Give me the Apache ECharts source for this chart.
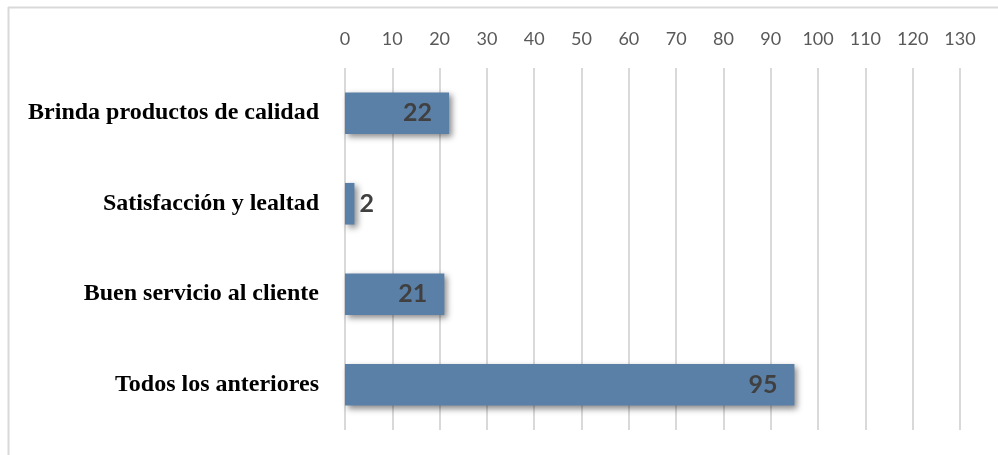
<!DOCTYPE html>
<html>
<head>
<meta charset="utf-8">
<script src="https://cdn.jsdelivr.net/npm/echarts@6/dist/echarts.min.js"></script>
<style>
  html, body { margin: 0; padding: 0; background: #fff; }
  #chart { width: 998px; height: 455px; }
</style>
</head>
<body>
<div id="chart"></div>
<script>
// Categories (top to bottom) and their counts
const categories = [
  'Brinda productos de calidad',
  'Satisfacción y lealtad',
  'Buen servicio al cliente',
  'Todos los anteriores'
];
const counts = [22, 2, 21, 95];

// Value axis range
const axisMin = 0;
const axisMax = 130;
const axisStep = 10;

const chart = echarts.init(document.getElementById('chart'));

chart.setOption({
  backgroundColor: '#ffffff',
  animation: false,
  graphic: [
    // Thin frame along the top and left edges
    { type: 'line', shape: { x1: 8, y1: 7.5, x2: 998, y2: 7.5 }, style: { stroke: '#d9d9d9', lineWidth: 2 } },
    { type: 'line', shape: { x1: 8.5, y1: 7, x2: 8.5, y2: 455 }, style: { stroke: '#d9d9d9', lineWidth: 2 } }
  ],
  grid: { left: 345, right: 38, top: 68, bottom: 25 },
  xAxis: {
    type: 'value',
    position: 'top',
    min: axisMin,
    max: axisMax,
    interval: axisStep,
    axisLine: { show: false },
    axisTick: { show: false },
    axisLabel: {
      color: '#595959',
      fontFamily: 'Lato, "Open Sans", sans-serif',
      fontSize: 18,
      margin: 20
    },
    splitLine: { show: true, lineStyle: { color: '#d9d9d9', width: 2 } }
  },
  yAxis: {
    type: 'category',
    inverse: true,
    data: categories,
    axisLine: { show: false },
    axisTick: { show: false },
    axisLabel: {
      color: '#000000',
      fontFamily: '"Liberation Serif", "Times New Roman", serif',
      fontWeight: 'bold',
      fontSize: 24,
      margin: 26
    }
  },
  series: [{
    type: 'bar',
    data: counts.map(function (v) {
      return {
        value: v,
        label: v < 5 ? { position: 'right', distance: 5 } : { position: 'insideRight', distance: 17 }
      };
    }),
    barWidth: '46%',
    itemStyle: {
      color: '#5b80a8',
      shadowColor: 'rgba(0,0,0,0.45)',
      shadowBlur: 6,
      shadowOffsetX: 3,
      shadowOffsetY: 3
    },
    label: {
      show: true,
      color: '#404040',
      fontFamily: 'Lato, "Open Sans", sans-serif',
      fontWeight: 'bold',
      fontSize: 25
    }
  }]
});
</script>
</body>
</html>
